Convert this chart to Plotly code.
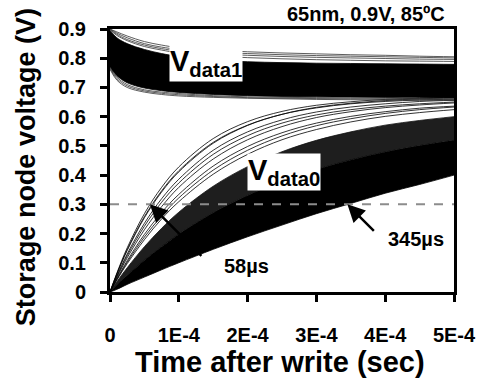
import plotly.graph_objects as go

# ---------------- data ----------------
T = [0, 10e-6, 25e-6, 50e-6, 75e-6, 100e-6, 150e-6, 200e-6, 250e-6,
     300e-6, 350e-6, 400e-6, 450e-6, 500e-6]

# V_data1 family (stored "1"): dense band edges + sparse outer curves
V1_BAND_LOW = [0.770, 0.740, 0.716, 0.698, 0.689, 0.683, 0.676, 0.672, 0.669, 0.668, 0.667, 0.666, 0.666, 0.665]
V1_BAND_HIGH = [0.895, 0.870, 0.850, 0.830, 0.816, 0.806, 0.794, 0.788, 0.785, 0.783, 0.782, 0.781, 0.780, 0.779]
V1_UPPER_LINES = [
    [0.900, 0.890, 0.876, 0.857, 0.845, 0.836, 0.828, 0.822, 0.818, 0.815, 0.812, 0.810, 0.807, 0.805],
    [0.900, 0.886, 0.870, 0.850, 0.838, 0.830, 0.821, 0.816, 0.812, 0.809, 0.807, 0.805, 0.803, 0.801],
    [0.898, 0.882, 0.864, 0.845, 0.833, 0.824, 0.815, 0.810, 0.806, 0.803, 0.801, 0.799, 0.797, 0.796],
    [0.897, 0.878, 0.860, 0.840, 0.828, 0.818, 0.808, 0.802, 0.798, 0.795, 0.793, 0.791, 0.790, 0.789],
]
V1_LOWER_LINES = [
    [0.768, 0.735, 0.710, 0.692, 0.684, 0.679, 0.672, 0.668, 0.666, 0.665, 0.664, 0.663, 0.662, 0.661],
    [0.765, 0.730, 0.705, 0.688, 0.680, 0.675, 0.669, 0.665, 0.663, 0.662, 0.661, 0.660, 0.659, 0.658],
    [0.762, 0.725, 0.700, 0.684, 0.676, 0.671, 0.666, 0.663, 0.661, 0.659, 0.658, 0.657, 0.656, 0.655],
]

# V_data0 family (stored "0"): solid core, dense zone, sparse fast curves
V0_CORE_LOW = [0, 0.009, 0.026, 0.051, 0.076, 0.100, 0.146, 0.189, 0.229, 0.268, 0.303, 0.338, 0.368, 0.400]
V0_CORE_HIGH = [0, 0.024, 0.057, 0.109, 0.155, 0.198, 0.271, 0.330, 0.379, 0.419, 0.452, 0.479, 0.501, 0.519]
V0_DENSE_HIGH = [0, 0.035, 0.083, 0.155, 0.218, 0.273, 0.362, 0.429, 0.480, 0.519, 0.548, 0.571, 0.587, 0.600]
V0_LINES = [
    [0, 0.065, 0.151, 0.268, 0.358, 0.428, 0.525, 0.583, 0.618, 0.639, 0.651, 0.659, 0.663, 0.666],
    [0, 0.062, 0.145, 0.258, 0.346, 0.415, 0.512, 0.571, 0.608, 0.630, 0.644, 0.652, 0.657, 0.660],
    [0, 0.061, 0.142, 0.254, 0.342, 0.411, 0.509, 0.570, 0.608, 0.632, 0.646, 0.655, 0.661, 0.664],
    [0, 0.055, 0.130, 0.235, 0.319, 0.386, 0.485, 0.548, 0.589, 0.616, 0.633, 0.644, 0.652, 0.656],
    [0, 0.053, 0.124, 0.225, 0.307, 0.373, 0.471, 0.535, 0.578, 0.606, 0.624, 0.636, 0.644, 0.650],
    [0, 0.050, 0.117, 0.213, 0.292, 0.358, 0.455, 0.521, 0.566, 0.597, 0.617, 0.631, 0.640, 0.647],
    [0, 0.045, 0.107, 0.197, 0.272, 0.334, 0.431, 0.498, 0.545, 0.578, 0.601, 0.617, 0.629, 0.636],
    [0, 0.043, 0.102, 0.188, 0.260, 0.322, 0.417, 0.485, 0.534, 0.569, 0.593, 0.611, 0.624, 0.633],
    [0, 0.041, 0.097, 0.179, 0.250, 0.309, 0.403, 0.471, 0.521, 0.556, 0.582, 0.601, 0.614, 0.624],
]

THRESHOLD = 0.3
CROSS_TIMES = [58e-6, 345e-6]
CROSS_LABELS = ["58µs", "345µs"]

X_TICKS = [0, 1e-4, 2e-4, 3e-4, 4e-4, 5e-4]
X_TICK_LABELS = ["0", "1E-4", "2E-4", "3E-4", "4E-4", "5E-4"]
Y_TICKS = [0, 0.1, 0.2, 0.3, 0.4, 0.5, 0.6, 0.7, 0.8, 0.9]
Y_TICK_LABELS = ["0", "0.1", "0.2", "0.3", "0.4", "0.5", "0.6", "0.7", "0.8", "0.9"]

# ---------------- figure ----------------
FONT = "Liberation Sans, Arial, sans-serif"
fig = go.Figure()


def band(low, high, color):
    fig.add_trace(go.Scatter(x=T, y=low, mode="lines", line=dict(color=color, width=0.8, shape="spline"),
                             hoverinfo="skip", showlegend=False))
    fig.add_trace(go.Scatter(x=T, y=high, mode="lines", line=dict(color=color, width=0.8, shape="spline"),
                             fill="tonexty", fillcolor=color, hoverinfo="skip", showlegend=False))


def thin(vals, color="black", w=0.8):
    fig.add_trace(go.Scatter(x=T, y=vals, mode="lines", line=dict(color=color, width=w, shape="spline"),
                             hoverinfo="skip", showlegend=False))


# V_data0
band(V0_CORE_LOW, V0_CORE_HIGH, "#000000")
fig.add_trace(go.Scatter(x=T, y=V0_DENSE_HIGH, mode="lines", line=dict(color="#111111", width=0.8, shape="spline"),
                         fill="tonexty", fillcolor="#1e1e1e", hoverinfo="skip", showlegend=False))
for v in V0_LINES:
    thin(v)

# V_data1
band(V1_BAND_LOW, V1_BAND_HIGH, "#000000")
for v in V1_UPPER_LINES:
    thin(v, "#333333")
for v in V1_LOWER_LINES:
    thin(v, "#333333")

# threshold
fig.add_shape(type="line", xref="x", yref="y", x0=X_TICKS[0], x1=X_TICKS[-1], y0=THRESHOLD, y1=THRESHOLD,
              line=dict(color="#8c8c8c", width=2, dash="dash"), layer="above")

ann = []
# arrows to crossing points (tail offsets in pixels)
for t, off in zip(CROSS_TIMES, [(53, 53), (28, 28)]):
    ann.append(dict(x=t, y=THRESHOLD, xref="x", yref="y", text=" ", showarrow=True,
                    ax=off[0], ay=off[1], arrowhead=2, arrowsize=1.4, arrowwidth=2.5,
                    arrowcolor="black", standoff=0, font=dict(size=1)))
ann.append(dict(x=199e-6, y=0.089, xref="x", yref="y", text="<b>%s</b>" % CROSS_LABELS[0], showarrow=False,
                font=dict(family=FONT, size=20, color="black")))
ann.append(dict(x=445e-6, y=0.181, xref="x", yref="y", text="<b>%s</b>" % CROSS_LABELS[1], showarrow=False,
                font=dict(family=FONT, size=20, color="black")))
# family labels
ann.append(dict(x=140e-6, y=0.785, xref="x", yref="y", text="<b>V<sub>data1</sub></b>", showarrow=False,
                bgcolor="white", borderpad=0, font=dict(family=FONT, size=29, color="black")))
ann.append(dict(x=253e-6, y=0.409, xref="x", yref="y", text="<b>V<sub>data0</sub></b>", showarrow=False,
                bgcolor="white", borderpad=0, font=dict(family=FONT, size=29, color="black")))
# condition title
ann.append(dict(x=0.98, y=1.057, xref="paper", yref="paper", xanchor="right", yanchor="middle",
                text="<b>65nm, 0.9V, 85ºC</b>", showarrow=False, font=dict(family=FONT, size=20, color="black")))
# axis titles
ann.append(dict(x=0.4956, y=-0.266, xref="paper", yref="paper", xanchor="center", yanchor="middle",
                text="<b>Time after write (sec)</b>", showarrow=False,
                font=dict(family=FONT, size=29, color="black")))
ann.append(dict(x=-0.244, y=0.475, xref="paper", yref="paper", xanchor="center", yanchor="middle",
                textangle=-90, text="<b>Storage node voltage (V)</b>", showarrow=False,
                font=dict(family=FONT, size=27, color="black")))

axis_common = dict(showline=True, linecolor="black", linewidth=3, mirror=True, ticks="outside",
                   ticklen=7, tickwidth=3, tickcolor="black", showgrid=False, zeroline=False,
                   automargin=False,
                   tickfont=dict(family=FONT, size=20, color="black", weight="bold"))

fig.update_layout(
    width=480, height=381,
    margin=dict(l=110, r=26, t=29, b=89),
    paper_bgcolor="white", plot_bgcolor="white",
    xaxis=dict(range=[X_TICKS[0], X_TICKS[-1]], tickvals=X_TICKS, ticktext=X_TICK_LABELS,
               ticklabelstandoff=16, **axis_common),
    yaxis=dict(range=[Y_TICKS[0], Y_TICKS[-1]], tickvals=Y_TICKS, ticktext=Y_TICK_LABELS,
               ticklabelstandoff=10, **axis_common),
    annotations=ann,
    showlegend=False,
)

fig.write_html("out.html")
